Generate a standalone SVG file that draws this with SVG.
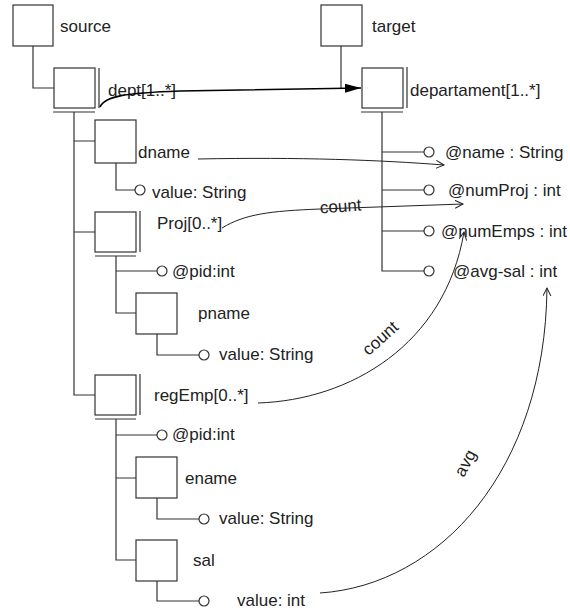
<svg xmlns="http://www.w3.org/2000/svg" width="570" height="614" viewBox="0 0 570 614">
<style>
.box{fill:#fff;stroke:#333;stroke-width:1.2}
.ln{fill:none;stroke:#333;stroke-width:1.2}
.att{fill:#fff;stroke:#333;stroke-width:1.2}
.t{font-family:"Liberation Sans",Arial,sans-serif;font-size:17px;fill:#222}
.c{fill:none;stroke:#222;stroke-width:1}
</style>
<defs>
<marker id="fa" markerUnits="userSpaceOnUse" markerWidth="18" markerHeight="12" refX="16" refY="4.5" orient="auto"><path d="M0,0 L16,4.5 L0,9 z" fill="#000"/></marker>
<marker id="oa" markerUnits="userSpaceOnUse" markerWidth="12" markerHeight="12" refX="8" refY="4" orient="auto"><path d="M0,0 L8,4 L0,8" fill="none" stroke="#222" stroke-width="1"/></marker>
</defs>
<rect width="570" height="614" fill="#fff"/>
<g id="tree-lines">
<path class="ln" d="M33,46 V88 H54"/>
<path class="ln" d="M74,112 V395 H95 M74,141 H95 M74,232 H95"/>
<path class="ln" d="M116,163 V190 H135"/>
<path class="ln" d="M116,256 V313 H136 M116,271 H157"/>
<path class="ln" d="M157,334 V355 H199"/>
<path class="ln" d="M116,419 V560 H136 M116,435 H157 M116,478 H136"/>
<path class="ln" d="M157,498 V519 H199"/>
<path class="ln" d="M157,581 V601 H199"/>
<path class="ln" d="M341,46 V88"/>
<path class="ln" d="M382,112 V271 H424 M382,152 H424 M382,190 H424 M382,231 H424"/>
</g>
<g id="source"><rect class="box" x="13" y="5" width="40" height="41"/><text class="t" x="60" y="32">source</text></g>
<g id="dept"><rect class="box" x="54" y="68" width="41" height="40"/><path class="ln" d="M99,68 V108 M53,112 H95"/><text class="t" x="108" y="96">dept[1..*]</text></g>
<g id="dname"><rect class="box" x="95" y="120" width="41" height="43"/><text class="t" x="138" y="158">dname</text></g>
<g id="dname-value"><circle class="att" cx="140" cy="190" r="5"/><text class="t" x="152" y="198">value: String</text></g>
<g id="proj"><rect class="box" x="95" y="212" width="41" height="40"/><path class="ln" d="M140,211 V252 M95,256 H136"/><text class="t" x="157" y="229">Proj[0..*]</text></g>
<g id="proj-pid"><circle class="att" cx="162" cy="271" r="5"/><text class="t" x="172" y="277">@pid:int</text></g>
<g id="pname"><rect class="box" x="136" y="293" width="41" height="41"/><text class="t" x="198" y="319">pname</text></g>
<g id="pname-value"><circle class="att" cx="204" cy="355" r="5"/><text class="t" x="219" y="360">value: String</text></g>
<g id="regEmp"><rect class="box" x="95" y="375" width="41" height="40"/><path class="ln" d="M140,374 V415 M95,419 H136"/><text class="t" x="154" y="401">regEmp[0..*]</text></g>
<g id="regEmp-pid"><circle class="att" cx="162" cy="435" r="5"/><text class="t" x="172" y="440">@pid:int</text></g>
<g id="ename"><rect class="box" x="136" y="457" width="41" height="41"/><text class="t" x="185" y="484">ename</text></g>
<g id="ename-value"><circle class="att" cx="204" cy="519" r="5"/><text class="t" x="219" y="524">value: String</text></g>
<g id="sal"><rect class="box" x="136" y="540" width="41" height="41"/><text class="t" x="193" y="566">sal</text></g>
<g id="sal-value"><circle class="att" cx="204" cy="601" r="5"/><text class="t" x="237" y="606">value: int</text></g>
<g id="target"><rect class="box" x="321" y="5" width="41" height="41"/><text class="t" x="372" y="32">target</text></g>
<g id="departament"><rect class="box" x="362" y="68" width="41" height="40"/><path class="ln" d="M407,67 V108 M361,112 H403"/><text class="t" x="410" y="96">departament[1..*]</text></g>
<g id="name"><circle class="att" cx="429" cy="152" r="5"/><text class="t" x="445" y="158">@name : String</text></g>
<g id="numProj"><circle class="att" cx="429" cy="190" r="5"/><text class="t" x="448" y="196">@numProj : int</text></g>
<g id="numEmps"><circle class="att" cx="429" cy="231" r="5"/><text class="t" x="441" y="237">@numEmps : int</text></g>
<g id="avg-sal"><circle class="att" cx="429" cy="271" r="5"/><text class="t" x="453" y="277">@avg-sal : int</text></g>
<g id="connectors">
<path d="M100,107 C105,96 125,93 180,91 L361,88" fill="none" stroke="#000" stroke-width="1.6" marker-end="url(#fa)"/>
<path class="c" d="M198,159 C300,157 380,160 444,165" marker-end="url(#oa)"/>
<path class="c" d="M222,228 C245,214 270,211 320,209 L463,204" marker-end="url(#oa)"/>
<text class="t" x="320" y="212" transform="rotate(-4 340 208)">count</text>
<path class="c" d="M258,403 C350,400 445,345 464,232" marker-end="url(#oa)"/>
<text class="t" x="380" y="344" text-anchor="middle" transform="rotate(-42 380 338)">count</text>
<path class="c" d="M320,593 C440,585 545,470 547,288" marker-end="url(#oa)"/>
<text class="t" x="465" y="469" text-anchor="middle" transform="rotate(-62 465 463)">avg</text>
</g>
</svg>
